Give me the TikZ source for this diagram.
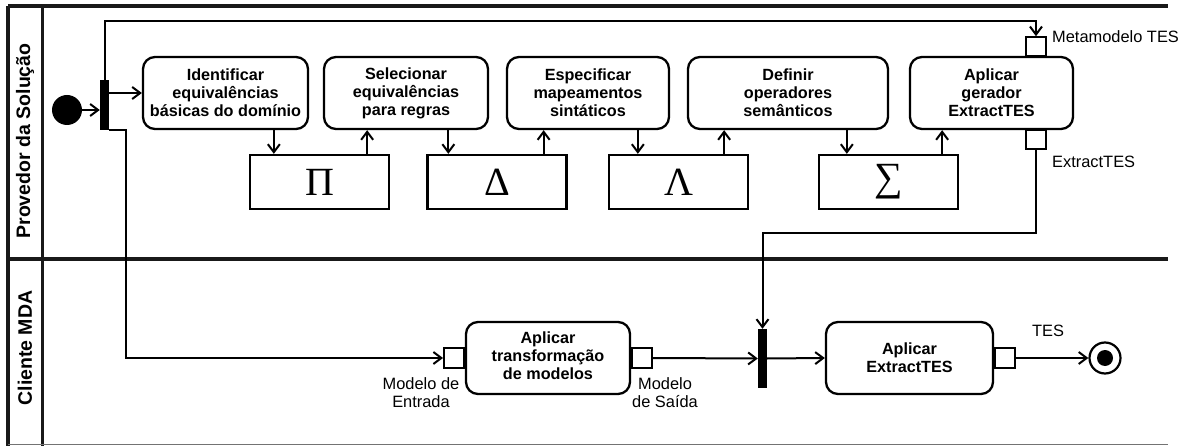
\documentclass[tikz,border=0pt]{standalone}
\usepackage{fontspec}
\setmainfont{Liberation Sans}
\newfontfamily\symfont{Liberation Serif}
\usetikzlibrary{arrows.meta}

\begin{document}
\begin{tikzpicture}[x=1pt,y=-1pt,
  lane/.style={line width=3.4pt, draw=black!90},
  act/.style={draw, line width=2.3pt, rounded corners=12pt, align=center,
    inner sep=0pt, minimum height=72pt,
    font=\fontsize{16.2}{18}\selectfont\bfseries},
  datum/.style={draw, line width=2.3pt, inner sep=0pt, minimum width=139pt,
    minimum height=54pt, font=\fontsize{40}{40}\selectfont\symfont},
  pinbox/.style={draw, line width=1.8pt, fill=white, inner sep=0pt,
    minimum width=20pt, minimum height=20pt},
  bar/.style={fill=black, draw=none, inner sep=0pt, minimum width=9pt},
  note/.style={font=\fontsize{16.4}{18}\selectfont, align=center, inner sep=0pt},
  lanelabel/.style={font=\fontsize{19.5}{20}\selectfont\bfseries, rotate=90, inner sep=0pt},
  flow/.style={line width=2pt, -{Straight Barb[length=8pt,width=12pt,line width=2pt]}},
  wire/.style={line width=2pt}
]
\useasboundingbox (0,0) rectangle (1186,446);

% swimlane frame
\draw[lane] (8,6) -- (1168,6);
\draw[lane] (8,259) -- (1168,259);
\draw[lane] (8,6) -- (8,446);
\draw[lane] (42.7,6) -- (42.7,446);
\draw[line width=1.6pt, draw=black!55] (8,444.5) -- (1168,444.5);
\node[lanelabel] (l1) at (25,141) {Provedor da Solução};
\node[lanelabel] (l2) at (25,348) {Cliente MDA};

% start and fork
\node[circle, fill=black, minimum size=30pt, inner sep=0pt] (init) at (67,110) {};
\node[bar, minimum height=50pt] (fork) at (104.5,105) {};

% activities of the solution provider
\node[act, minimum width=165pt] (b1) at (225.5,93) {Identificar\\equivalências\\básicas do domínio};
\node[act, minimum width=164pt] (b2) at (406,93) {Selecionar\\equivalências\\para regras};
\node[act, minimum width=162pt] (b3) at (588,93) {Especificar\\mapeamentos\\sintáticos};
\node[act, minimum width=200pt] (b4) at (788,93) {Definir\\operadores\\semânticos};
\node[act, minimum width=163pt] (b5) at (991.5,93) {Aplicar\\gerador\\ExtractTES};

% intermediate artefacts
\node[datum] (p1) at (319.5,182) {\raisebox{-3pt}{Π}};
\node[datum] (p2) at (497,182) {\raisebox{-3pt}{Δ}};
\node[datum] (p3) at (678.5,182) {\raisebox{-3pt}{Λ}};
\node[datum] (p4) at (888.5,182) {\raisebox{-3pt}{∑}};

% pins of the generator
\node[pinbox, minimum height=19pt, anchor=south] (pt) at (1036,57) {};
\node[pinbox, minimum height=19pt, anchor=north] (pb) at (1036,129) {};
\node[note, anchor=west] (lt) at (1052,37) {Metamodelo TES};
\node[note, anchor=west] (lb) at (1052,162) {ExtractTES};

% client activities
\node[act, minimum width=164pt] (b6) at (548,358) {\raisebox{4pt}{\begin{tabular}{@{}c@{}}Aplicar\\transformação\\de modelos\end{tabular}}};
\node[act, minimum width=167pt] (b7) at (909.5,358) {Aplicar\\ExtractTES};
\node[pinbox, anchor=east] (pi) at (b6.west) {};
\node[pinbox, anchor=west] (po) at (b6.east) {};
\node[pinbox, anchor=west] (px) at (b7.east) {};
\node[note] (li) at (421,393) {Modelo de\\Entrada};
\node[note] (lo) at (665,393) {Modelo\\de Saída};
\node[note] (lx) at (1048,331) {TES};
\node[bar, minimum height=59pt] (join) at (762.5,358.5) {};

% end node
\node[circle, draw, line width=2.2pt, minimum size=31pt, inner sep=0pt] (fin) at (1105,358) {};
\node[circle, fill=black, minimum size=16pt, inner sep=0pt] (fdot) at (fin) {};

% control and object flows
\coordinate (fbrow) at (0,21);
\coordinate (jrow) at (0,233);
\draw[flow] (init) -- (init -| fork.west);
\draw[flow] (fork.east |- b1) -- (b1.west);
\draw[flow] (fork.north) -- (fork.north |- fbrow) -| (pt.north);
\draw[flow] (fork.south east) -- ++(17,0) |- (pi.west);

\coordinate (d1) at ([xshift=25pt]p1.north west);
\coordinate (u1) at ([xshift=-23pt]p1.north east);
\coordinate (d2) at ([xshift=22pt]p2.north west);
\coordinate (u2) at ([xshift=-24pt]p2.north east);
\coordinate (d3) at ([xshift=30pt]p3.north west);
\coordinate (u3) at ([xshift=-25pt]p3.north east);
\coordinate (d4) at ([xshift=29pt]p4.north west);
\coordinate (u4) at ([xshift=-17pt]p4.north east);
\draw[flow] (d1 |- b1.south) -- (d1);
\draw[flow] (u1) -- (u1 |- b2.south);
\draw[flow] (d2 |- b2.south) -- (d2);
\draw[flow] (u2) -- (u2 |- b3.south);
\draw[flow] (d3 |- b3.south) -- (d3);
\draw[flow] (u3) -- (u3 |- b4.south);
\draw[flow] (d4 |- b4.south) -- (d4);
\draw[flow] (u4) -- (u4 |- b5.south);

\draw[flow] (pb.south) -- (pb.south |- jrow) -| (join.north);
\draw[flow] (po.east) -- (join.west);
\draw[flow] (join.east) -- (b7.west);
\draw[flow] (px.east) -- (fin.west);
\end{tikzpicture}
\end{document}
